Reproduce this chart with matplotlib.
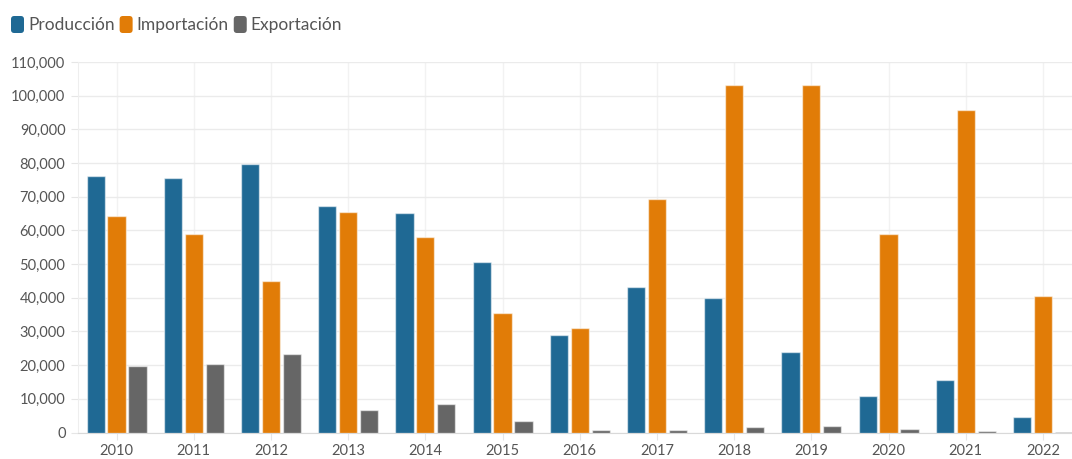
import matplotlib
matplotlib.use("Agg")
import matplotlib.pyplot as plt
from matplotlib.patches import FancyBboxPatch
from matplotlib.ticker import FuncFormatter, MultipleLocator
import numpy as np

years = ["2010", "2011", "2012", "2013", "2014", "2015", "2016",
         "2017", "2018", "2019", "2020", "2021", "2022"]
produccion = [76200, 75600, 79700, 67300, 65200, 50600, 29000,
              43200, 40000, 23900, 10800, 15600, 4600]
importacion = [64300, 58900, 45000, 65500, 58000, 35500, 31000,
               69300, 103200, 103200, 58800, 95800, 40500]
exportacion = [19700, 20300, 23300, 6700, 8500, 3400, 800,
               650, 1600, 1800, 1000, 300, 100]
series_names = ["Producción", "Importación", "Exportación"]
colors = ["#1f6994", "#e17c07", "#666666"]

plt.rcParams['font.family'] = ['Lato', 'DejaVu Sans']

fig = plt.figure(figsize=(10.72, 4.59), dpi=100)
W, H = 1072, 459
ax = fig.add_axes([78 / W, (H - 432.5) / H, (1072 - 78) / W, (432.5 - 62) / H])

x = np.arange(len(years))
bw = 0.236
off = 0.27
for i, (vals, c) in enumerate(zip([produccion, importacion, exportacion], colors)):
    ax.bar(x + (i - 1) * off, vals, width=bw, color=c,
           edgecolor=(1, 1, 1, 0.55), linewidth=1.0, zorder=3)

ax.set_ylim(0, 110000)
ax.set_xlim(-0.5, 12.376)
ax.yaxis.set_major_locator(MultipleLocator(10000))
ax.yaxis.set_major_formatter(FuncFormatter(lambda v, p: f"{int(v):,}"))
ax.set_xticks(x)
ax.set_xticklabels(years)
ax.grid(True, axis="y", color="#ebebeb", linewidth=1, zorder=0)
ax.grid(True, axis="x", color="#f2f2f2", linewidth=1, zorder=0)
for s in ax.spines.values():
    s.set_visible(False)
ax.spines['bottom'].set_visible(True)
ax.spines['bottom'].set_color("#d9d9d9")
ax.spines['left'].set_visible(True)
ax.spines['left'].set_color("#eeeeee")
ax.tick_params(axis="both", length=5, color="#e6e6e6", labelcolor="#555555",
               labelsize=10.5)
ax.tick_params(axis="y", pad=4)
ax.tick_params(axis="x", pad=3)

# legend
fig.canvas.draw()
renderer = fig.canvas.get_renderer()
xpos = 11
for name, c in zip(series_names, colors):
    box = FancyBboxPatch((xpos / W, (H - 33) / H), 13 / W, 17 / H,
                         boxstyle="round,pad=0,rounding_size=0.003",
                         transform=fig.transFigure, facecolor=c,
                         edgecolor="none", mutation_aspect=W / H)
    fig.patches.append(box)
    t = fig.text((xpos + 17) / W, (H - 25) / H, name, fontsize=12.5,
                 color="#555555", va="center", ha="left")
    bb = t.get_window_extent(renderer)
    xpos = bb.x1 + 5

fig.savefig("out.png", dpi=100)
